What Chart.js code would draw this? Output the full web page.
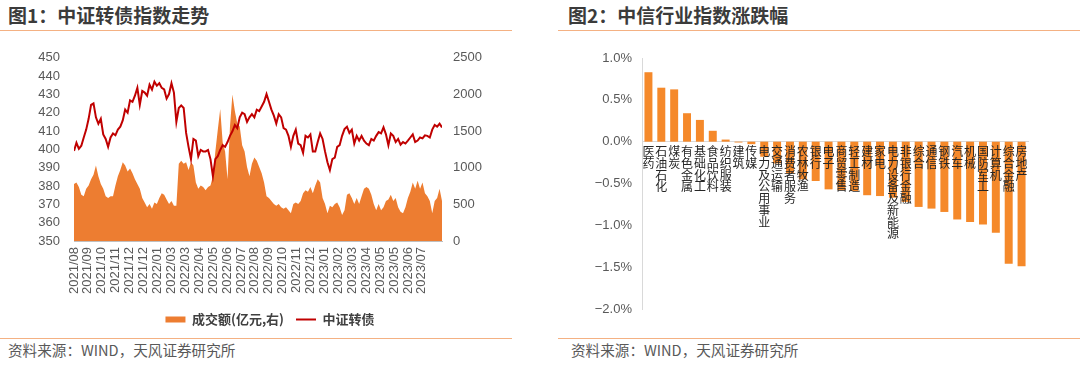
<!DOCTYPE html>
<html lang="zh-CN">
<head>
<meta charset="utf-8">
<script src="https://cdn.jsdelivr.net/npm/chart.js@4.4.1/dist/chart.umd.min.js"></script>
<style>
  html, body { margin: 0; padding: 0; background: #fff; }
  body { width: 1080px; height: 369px; position: relative; overflow: hidden;
         font-family: "Noto Sans CJK SC", "Liberation Sans", sans-serif; }
  .title { position: absolute; top: 4px; font-size: 19px; line-height: 21px; font-weight: bold; color: #3b3b3b; }
  .rule { position: absolute; height: 0; border-top: 1.5px solid #F4B183; }
  .source { position: absolute; top: 341px; font-size: 14.6px; line-height: 18px; color: #595959; }
  canvas { position: absolute; }
</style>
</head>
<body>
<div class="title" style="left:8px">图1：中证转债指数走势</div>
<div class="title" style="left:568px">图2：中信行业指数涨跌幅</div>
<div class="rule" style="left:0; width:512px; top:30px"></div>
<div class="rule" style="left:558px; width:522px; top:30px"></div>
<div class="rule" style="left:0; width:512px; top:338px"></div>
<div class="rule" style="left:558px; width:522px; top:338px"></div>
<div class="source" style="left:8px">资料来源：WIND，天风证券研究所</div>
<div class="source" style="left:571px">资料来源：WIND，天风证券研究所</div>

<canvas id="left" width="540" height="300" style="left:0; top:36px"></canvas>
<canvas id="right" width="522" height="300" style="left:558px; top:40px"></canvas>

<script>
// 图1 数据
const dateTicks = ['2021/08', '2021/09', '2021/10', '2021/11', '2021/12', '2021/12', '2022/01',
  '2022/03', '2022/03', '2022/04', '2022/05', '2022/06', '2022/07', '2022/08', '2022/09',
  '2022/10', '2022/11', '2022/12', '2023/01', '2023/02', '2023/03', '2023/04', '2023/05',
  '2023/05', '2023/06', '2023/07'];
const tickEvery = 5.71; // 每个日期标签之间的数据点数

const bondIndex = [
  399.2, 403.6, 400.3, 402, 406.5, 410.8, 416.7, 424.3, 425.1, 417.5, 414, 416.7, 408.2, 405.7,
  401.4, 406.5, 408.7, 407.7, 410.8, 412.4, 415.8, 421.7, 420, 426.8, 426, 429.3, 433.6, 424.3,
  431.9, 431, 429.3, 435.3, 432.7, 437, 434.8, 436.1, 433.6, 432.7, 427.7, 430.2, 436.1, 431,
  415, 422.6, 424, 422.6, 409, 401.4, 394.7, 405.7, 404.8, 396.3, 399.7, 398.9,
  398.9, 399.7, 394.7, 385.4, 394.7, 396.3, 399.7, 402.3, 401.4, 404, 407.4, 409.9, 413.3, 411.6,
  417.5, 420, 419.2, 415, 417.5, 419.2, 417.5, 421.7, 420.9, 423.4, 426, 430.2, 426, 421.7,
  418.4, 414.1, 419.2, 417.5, 411.6, 410.8, 407.4, 401.4, 407.4, 410.8, 403.2, 402.3, 398.1,
  407.4, 406.5, 408.2, 398.9, 398.9, 404,
  408.7, 405.7, 398.9, 393, 388.7, 394.7, 395.5, 401.4, 402.3, 407.4, 411.1, 412.4, 409, 410.8,
  403.2, 407.4, 404.8, 407.4, 404.8, 403.2, 402.3, 405.7, 404.8, 407.4, 409.4, 408.7, 412, 408.2,
  402.3, 408.7, 407.4, 404, 405.7, 402.6, 404, 403.2, 404.8, 406.5, 408.2, 404, 404.8, 406.5,
  406, 407.7, 407.4, 406.5, 410.8, 413.3, 412.4, 414, 412
];

const turnover = [
  778, 800, 736, 630, 609, 714, 757, 841, 905, 1032, 884, 778, 714, 609, 588, 609, 609, 757,
  884, 968, 1075, 1032, 948, 990, 926, 841, 778, 714, 588, 524, 461, 504, 440, 524, 504, 588,
  651, 630, 567, 504, 546, 482, 482, 1053, 1095, 1053, 1075, 968, 1075, 1032, 800, 714, 757, 736,
  694, 736, 757, 884, 1222, 1519, 1800, 1349, 1222, 841, 1561, 2000, 1773, 1603, 1561, 1307,
  1222, 1011, 884, 1053, 1138, 1095, 1011, 926, 800, 609, 588, 546, 504, 482, 504, 461, 440,
  461, 419, 377, 504, 524, 504, 546, 651, 694, 673, 736, 651, 757, 841,
  800, 588, 504, 377, 482, 461, 504, 524, 461, 355, 419, 630, 651, 588, 504, 588, 504, 609,
  714, 736, 714, 630, 504, 419, 504, 419, 461, 546, 567, 630, 546, 588, 461, 398, 377, 461,
  588, 673, 800, 714, 821, 714, 800, 651, 609, 546, 377, 546, 588, 714, 546
];

// 图2 数据（%）
const industries = ['医药', '石油石化', '煤炭', '有色金属', '基础化工', '食品饮料', '纺织服装', '建筑',
  '传媒', '电力及公用事业', '交通运输', '消费者服务', '农林牧渔', '银行', '电子', '商贸零售', '轻工制造',
  '建材', '家电', '电力设备及新能源', '非银行金融', '综合', '通信', '钢铁', '汽车', '机械', '国防军工',
  '计算机', '综合金融', '房地产'];
const changes = [0.83, 0.645, 0.625, 0.34, 0.26, 0.13, 0.025, -0.01, -0.03, -0.18, -0.26, -0.38,
  -0.45, -0.47, -0.57, -0.58, -0.59, -0.64, -0.65, -0.67, -0.72, -0.78, -0.80, -0.84, -0.93,
  -0.96, -0.99, -1.09, -1.46, -1.49];

const latin = '"Liberation Sans", Arial, sans-serif';
const cjk = '"Noto Sans CJK SC", sans-serif';
const grey = '#595959';

new Chart(document.getElementById('left'), {
  type: 'line',
  data: {
    labels: bondIndex.map((_, i) => i),
    datasets: [{
      label: '成交额(亿元,右)',
      data: turnover,
      yAxisID: 'y1',
      fill: 'origin',
      backgroundColor: '#ED7D31',
      borderColor: '#ED7D31',
      borderWidth: 0,
      pointRadius: 0,
      pointStyle: 'rect',
      order: 2
    }, {
      label: '中证转债',
      data: bondIndex,
      yAxisID: 'y',
      fill: false,
      borderColor: '#C00000',
      backgroundColor: '#C00000',
      borderWidth: 2,
      pointBorderWidth: 2,
      pointRadius: 0,
      pointStyle: 'line',
      order: 1
    }]
  },
  options: {
    responsive: false,
    animation: false,
    layout: { padding: { top: 10 } },
    plugins: {
      tooltip: { enabled: false },
      legend: {
        position: 'bottom',
        labels: {
          usePointStyle: true,
          pointStyleWidth: 20,
          boxHeight: 6,
          padding: 12,
          color: '#404040',
          font: { family: cjk, size: 13, weight: 'bold' },
          sort: (a, b) => a.datasetIndex - b.datasetIndex
        }
      }
    },
    scales: {
      x: {
        type: 'linear',
        min: 0,
        max: bondIndex.length - 1,
        grid: { display: false, drawTicks: false },
        border: { color: '#bfbfbf' },
        afterBuildTicks: s => { s.ticks = dateTicks.map((_, i) => ({ value: i * tickEvery })); },
        afterFit: s => { s.height = 60; },
        ticks: {
          autoSkip: false, minRotation: 90, maxRotation: 90, padding: 6,
          color: grey, font: { family: latin, size: 13 },
          callback: (v, i) => dateTicks[i]
        }
      },
      y: {
        position: 'left', min: 350, max: 450,
        grid: { display: false, drawTicks: false },
        border: { display: false },
        afterFit: s => { s.width = 74; },
        ticks: { stepSize: 10, autoSkip: false, padding: 14, color: grey, font: { family: latin, size: 13 } }
      },
      y1: {
        position: 'right', min: 0, max: 2500,
        grid: { display: false, drawTicks: false },
        border: { display: false },
        afterFit: s => { s.width = 98; },
        ticks: {
          stepSize: 500, autoSkip: false, padding: 11, color: grey, font: { family: latin, size: 13 },
          callback: v => String(v)
        }
      }
    }
  }
});

new Chart(document.getElementById('right'), {
  type: 'bar',
  data: {
    labels: industries.map(s => Array.from(s)),
    datasets: [{
      data: changes,
      backgroundColor: '#F5892A',
      barPercentage: 0.62,
      categoryPercentage: 1
    }]
  },
  options: {
    responsive: false,
    animation: false,
    layout: { padding: { top: 18, right: 52, bottom: 31 } },
    plugins: { legend: { display: false }, tooltip: { enabled: false } },
    scales: {
      x: {
        position: { y: 0 },
        grid: { display: false, drawTicks: false },
        border: { color: '#d9d9d9' },
        ticks: {
          z: 1,
          autoSkip: false, minRotation: 0, maxRotation: 0, padding: 4,
          color: '#262626', font: { family: cjk, size: 12, lineHeight: 0.98 }
        }
      },
      y: {
        min: -2, max: 1,
        grid: { display: false, drawTicks: false },
        border: { color: '#d9d9d9' },
        afterFit: s => { s.width = 84; },
        ticks: {
          stepSize: 0.5, padding: 10, color: grey, font: { family: latin, size: 13 },
          callback: v => (v < 0 ? '−' : '') + Math.abs(v).toFixed(1) + '%'
        }
      }
    }
  }
});
</script>
</body>
</html>
